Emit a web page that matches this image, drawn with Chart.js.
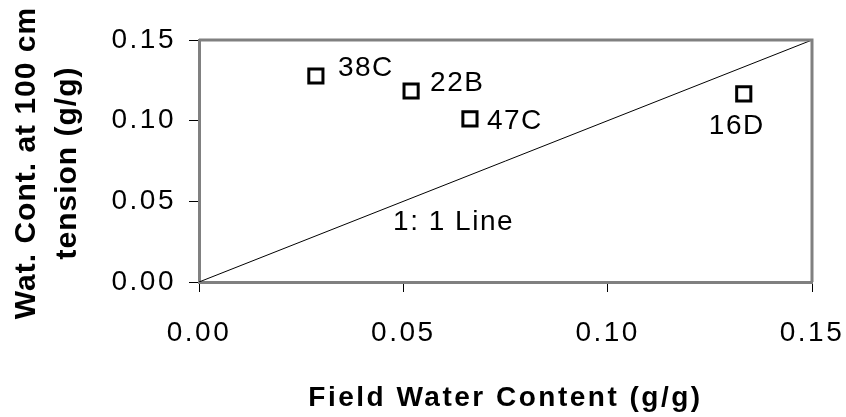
<!DOCTYPE html>
<html>
<head>
<meta charset="utf-8">
<script src="https://cdn.jsdelivr.net/npm/chart.js@4/dist/chart.umd.min.js"></script>
<style>
  html, body { margin: 0; padding: 0; background: #fff; }
  #wrap { width: 846px; height: 417px; }
</style>
</head>
<body>
<div id="wrap"><canvas id="chart" width="846" height="417"></canvas></div>
<script>
// --- data ---
var sampleNames = ['38C', '22B', '47C', '16D'];
var fieldWater = [0.0286, 0.0519, 0.0663, 0.1333];
var water100cm = [0.1277, 0.1184, 0.1011, 0.1166];
var oneToOneX = [0, 0.15];
var oneToOneY = [0, 0.15];
var tickValues = [0, 0.05, 0.10, 0.15];
var lineLabel = '1: 1 Line';
var lineLabelAt = [0.0475, 0.0322];
var yTitle = ['Wat. Cont. at 100 cm', 'tension (g/g)'];
var xTitle = 'Field Water Content (g/g)';

// label placement relative to each marker (dx, dy to baseline, align)
var labelPlace = [
  { dx: 22, dy: 0, align: 'left' },
  { dx: 19, dy: 0, align: 'left' },
  { dx: 17, dy: 10, align: 'left' },
  { dx: -7, dy: 40, align: 'center' }
];

var FONT = '"Liberation Sans", Arial, sans-serif';

var framePlugin = {
  id: 'frame',
  beforeDraw: function(chart) {
    chart.ctx.letterSpacing = '2.5px';
  },
  afterDraw: function(chart) {
    var ctx = chart.ctx, a = chart.chartArea;
    ctx.save();
    ctx.letterSpacing = '0px';
    ctx.strokeStyle = '#808080';
    ctx.lineWidth = 3;
    ctx.beginPath();
    ctx.moveTo(a.left, a.top);
    ctx.lineTo(a.right, a.top);
    ctx.lineTo(a.right, a.bottom);
    ctx.stroke();

    // point labels
    var meta = chart.getDatasetMeta(1);
    ctx.fillStyle = '#000';
    ctx.font = '28px ' + FONT;
    ctx.letterSpacing = '1.5px';
    ctx.textBaseline = 'alphabetic';
    meta.data.forEach(function(pt, i) {
      var p = labelPlace[i];
      ctx.textAlign = p.align;
      ctx.fillText(sampleNames[i], pt.x + p.dx, pt.y + p.dy);
    });

    // 1:1 line label
    var xs = chart.scales.x, ys = chart.scales.y;
    ctx.textAlign = 'left';
    ctx.fillText(lineLabel, xs.getPixelForValue(lineLabelAt[0]), ys.getPixelForValue(lineLabelAt[1]));

    // y axis title (two lines, rotated)
    ctx.font = 'bold 30px ' + FONT;
    ctx.letterSpacing = '1px';
    ctx.textAlign = 'center';
    ctx.textBaseline = 'middle';
    ctx.translate(0, (a.top + a.bottom) / 2 + 2);
    ctx.rotate(-Math.PI / 2);
    ctx.fillText(yTitle[0], 0, 26.6);
    ctx.fillText(yTitle[1], 0, 67.6);
    ctx.restore();
    ctx.letterSpacing = '0px';
  }
};

var ctx = document.getElementById('chart').getContext('2d');
new Chart(ctx, {
  type: 'scatter',
  data: {
    datasets: [{
      data: oneToOneX.map(function(x, i) { return { x: x, y: oneToOneY[i] }; }),
      showLine: true,
      borderColor: '#000',
      borderWidth: 1,
      pointRadius: 0,
      fill: false
    }, {
      data: fieldWater.map(function(x, i) { return { x: x, y: water100cm[i] }; }),
      pointStyle: 'rect',
      pointRadius: 10,
      borderColor: '#000',
      borderWidth: 3,
      backgroundColor: '#fff'
    }]
  },
  options: {
    responsive: false,
    animation: false,
    layout: { padding: { left: 0, top: 40, right: 34, bottom: 0 } },
    plugins: {
      legend: { display: false },
      tooltip: { enabled: false }
    },
    scales: {
      x: {
        type: 'linear',
        min: 0,
        max: 0.15,
        afterBuildTicks: function(s) { s.ticks = tickValues.map(function(v) { return { value: v }; }); },
        afterFit: function(s) { s.height = 135; s.paddingLeft = 0; s.paddingRight = 0; },
        grid: { drawOnChartArea: false, tickLength: 10, color: '#000', lineWidth: 1 },
        border: { color: '#808080', width: 3 },
        ticks: {
          padding: 24,
          color: '#000',
          font: { family: FONT, size: 28 },
          maxRotation: 0,
          callback: function(v) { return v.toFixed(2); }
        },
        title: {
          display: true,
          text: xTitle,
          color: '#000',
          font: { family: FONT, size: 28, weight: 'bold' },
          padding: { top: 0, bottom: 2 }
        }
      },
      y: {
        type: 'linear',
        min: 0,
        max: 0.15,
        afterBuildTicks: function(s) { s.ticks = tickValues.map(function(v) { return { value: v }; }); },
        afterFit: function(s) { s.width = 199; s.paddingTop = 0; s.paddingBottom = 0; },
        grid: { drawOnChartArea: false, tickLength: 10, color: '#000', lineWidth: 1 },
        border: { color: '#808080', width: 3 },
        ticks: {
          padding: 13,
          color: '#000',
          font: { family: FONT, size: 28 },
          callback: function(v) { return v.toFixed(2); }
        }
      }
    }
  },
  plugins: [framePlugin]
});
</script>
</body>
</html>
